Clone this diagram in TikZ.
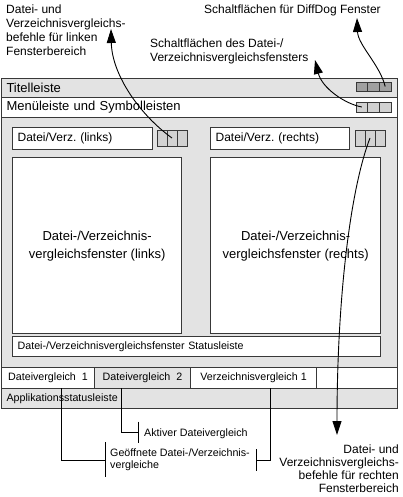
\documentclass[tikz,border=0pt]{standalone}
\usepackage{fontspec}
\setmainfont{Liberation Sans}
\usetikzlibrary{arrows.meta}
\frenchspacing

\definecolor{wingray}{HTML}{E3E3E3}
\definecolor{btndark}{HTML}{A0A0A0}
\definecolor{btnlight}{HTML}{D2D2D2}
\definecolor{frame}{HTML}{383838}

\newcommand{\fntlarge}{\fontsize{13}{18}\selectfont}
\newcommand{\fntmid}{\fontsize{12}{14.2}\selectfont}
\newcommand{\fntsmall}{\fontsize{10.7}{12}\selectfont}

\tikzset{
  bar/.style={rectangle, draw=frame, line width=1pt, inner sep=0pt, anchor=north west, align=left},
  box/.style={rectangle, draw=frame, line width=1.3pt, fill=white, inner sep=0pt, anchor=north west},
  btn/.style={rectangle, draw=frame, line width=0.8pt, inner sep=0pt},
  callout/.style={inner sep=0pt, font=\fntmid},
  pointer/.style={-{Triangle[length=14pt,width=9pt]}, line width=0.9pt},
  bracket/.style={line width=0.9pt},
}

\begin{document}
\begin{tikzpicture}[x=1pt, y=-1pt]
    \useasboundingbox (0,0) rectangle (403,497);
    % Window
    \node[bar, fill=wingray, minimum width=396pt, minimum height=329.5pt] (window) at (1,78.5) {};
    % Title bar and menu bar
    \node[bar, fill=wingray, minimum width=396pt, minimum height=18.5pt, text width=386pt, font=\fntlarge] (titlebar) at (1,78.5) {Titelleiste};
    \node[bar, fill=white, minimum width=396pt, minimum height=20pt, text width=386pt, font=\fntlarge] (menubar) at (1,97) {Menüleiste und Symbolleisten};
    % Buttons
    \foreach \i in {1,2,3} {
        \node[btn, fill=btndark, minimum width=11.67pt, minimum height=9pt] (tbtn-\i) at ({356+11.67*(\i-0.5)},86.5) {};
        \node[btn, fill=btnlight, minimum width=11.67pt, minimum height=10pt] (mbtn-\i) at ({356+11.67*(\i-0.5)},107) {};
        \node[btn, fill=btnlight, minimum width=10pt, minimum height=16pt] (lbtn-\i) at ({152+10*\i},138) {};
        \node[btn, fill=btnlight, minimum width=10pt, minimum height=16pt] (rbtn-\i) at ({350+10*\i},138) {};
    }
    % Comparison panes
    \node[box, minimum width=140pt, minimum height=22pt, text width=130pt, align=left, font=\fntmid] (headL) at (12,127) {Datei/Verz. (links)};
    \node[box, minimum width=139pt, minimum height=22pt, text width=129pt, align=left, font=\fntmid] (headR) at (210,127) {Datei/Verz. (rechts)};
    \node[box, minimum width=169pt, minimum height=176pt, align=center, font=\fntlarge] (paneL) at (12,157) {Datei-/Verzeichnis-\\vergleichsfenster (links)};
    \node[box, minimum width=170pt, minimum height=176pt, align=center, font=\fntlarge] (paneR) at (210,157) {Datei-/Verzeichnis-\\vergleichsfenster (rechts)};
    \node[box, minimum width=368pt, minimum height=20pt, text width=358pt, align=left, font=\fntsmall] (status) at (12,336) {Datei-/Verzeichnisvergleichsfenster Statusleiste};
    % Tabs
    \node[bar, fill=white, minimum width=396pt, minimum height=21pt] (tabrow) at (1,367) {};
    \foreach \name/\x/\w/\c [count=\i] in {Dateivergleich~~1/1/93/white, Dateivergleich~~2/94/96/wingray, Verzeichnisvergleich~1/190/126/white} {
        \node[bar, fill=\c, minimum width=\w, minimum height=21pt, align=center, font=\fntsmall] (tab-\i) at (\x,367) {\name};
    }
    % Status bar
    \node[bar, fill=wingray, minimum width=396pt, minimum height=20pt, text width=386pt, font=\fntsmall] (appbar) at (1,388) {Applikationsstatusleiste};

    % Callouts
    \node[callout, anchor=north west, align=left] (cmdL) at (6,4.5) {Datei- und\\Verzeichnisvergleichs-\\befehle für linken\\Fensterbereich};
    \node[callout, anchor=base west] (appbtn) at (204,13.5) {Schaltflächen für DiffDog Fenster};
    \node[callout, anchor=north west, align=left] (panebtn) at (150,38.5) {Schaltflächen des Datei-/\\Verzeichnisvergleichsfensters};
    \node[callout, anchor=north east, align=right, font=\fontsize{12}{12.8}\selectfont] (cmdR) at (399,445) {Datei- und\\Verzeichnisvergleichs-\\befehle für rechten\\Fensterbereich};
    \node[anchor=base west, font=\fntsmall, inner sep=0pt] (activelbl) at (144,436) {Aktiver Dateivergleich};
    \node[anchor=north west, align=left, font=\fntsmall, inner sep=0pt] (openlbl) at (110,449) {Geöffnete Datei-/Verzeichnis-\\vergleiche};

    % Arrows
    \coordinate (tipL) at (111,29);
    \coordinate (tipApp) at (357,18);
    \coordinate (tipPane) at (315,60);
    \coordinate (tipR) at (337,435);
    \draw[pointer] (lbtn-2.center) .. controls (140,115) and (112,75) .. (tipL);
    \draw[pointer] (tbtn-3.center) .. controls (380,65) and (358,45) .. (tipApp);
    \draw[pointer] (mbtn-1.center) .. controls (345,104) and (322,88) .. (tipPane);
    \draw[pointer] (rbtn-2.center) .. controls (350,190) and (337,300) .. (tipR);

    % Brackets
    \coordinate (markA) at (61,388);
    \coordinate (markB) at (121,388);
    \coordinate (markC) at (270,388);
    \coordinate (openA) at (105,460);
    \coordinate (openB) at (256,460);
    \coordinate (activeA) at (138,432);
    \draw[bracket] (markA) |- (openA);
    \draw[bracket] (markC) |- (openB);
    \draw[bracket] (markB) |- (activeA);
    \draw[bracket] (openA) ++(0,-18) -- ++(0,35);
    \draw[bracket] (openB) ++(0,-11) -- ++(0,22);
    \draw[bracket] (activeA) ++(0,-10.5) -- ++(0,21.5);
\end{tikzpicture}
\end{document}
